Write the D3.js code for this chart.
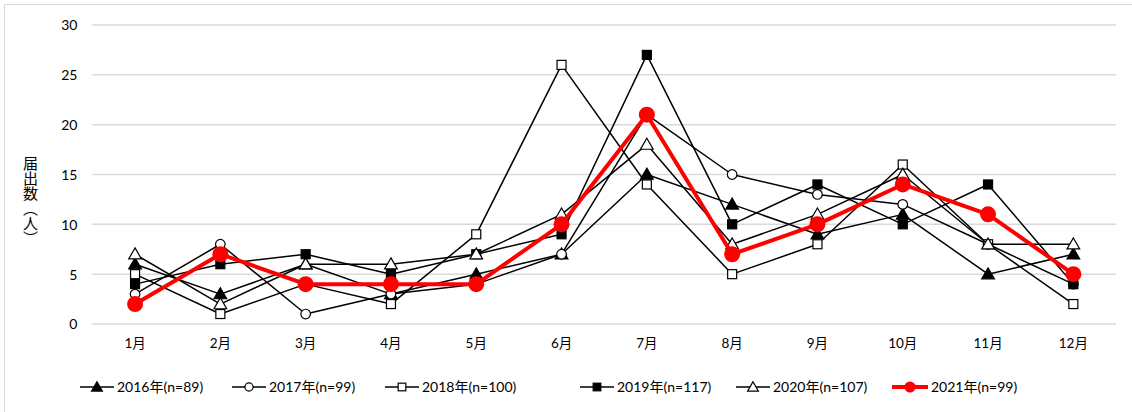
<!DOCTYPE html>
<html><head><meta charset="utf-8">
<script src="https://cdn.jsdelivr.net/npm/d3@7"></script>
<style>
html,body{margin:0;padding:0;background:#fff;}
text{font-family:"Lato","Noto Sans CJK JP",sans-serif;fill:#000;}
</style></head>
<body><svg id="c" width="1132" height="412"></svg>
<script>
const months = ["1月","2月","3月","4月","5月","6月","7月","8月","9月","10月","11月","12月"];
const yTicks = [0,5,10,15,20,25,30];
const seriesNames = ["2016年(n=89)","2017年(n=99)","2018年(n=100)","2019年(n=117)","2020年(n=107)","2021年(n=99)"];
const v2016 = [6,3,6,3,5,7,15,12,9,11,5,7];
const v2017 = [3,8,1,3,4,7,21,15,13,12,8,4];
const v2018 = [5,1,4,2,9,26,14,5,8,16,8,2];
const v2019 = [4,6,7,5,7,9,27,10,14,10,14,4];
const v2020 = [7,2,6,6,7,11,18,8,11,15,8,8];
const v2021 = [2,7,4,4,4,10,21,7,10,14,11,5];
const yTitle = "届出数（人）";

const svg = d3.select("#c");
const L = 92.4, R = 1116, T = 25, B = 324;
const x = d3.scaleBand().domain(months).range([L, R]);
const y = d3.scaleLinear().domain([0, 30]).range([B, T]);

// chart border
svg.append("rect").attr("x",4.5).attr("y",4.5).attr("width",1140).attr("height",420)
  .attr("fill","none").attr("stroke","#d9d9d9").attr("stroke-width",1);

// gridlines
svg.append("g").selectAll("line").data(yTicks).join("line")
  .attr("x1",L).attr("x2",R).attr("y1",d=>y(d)).attr("y2",d=>y(d))
  .attr("stroke","#d9d9d9").attr("stroke-width",1.5);

// y axis labels
const yAxis = d3.axisLeft(y).tickValues(yTicks).tickSize(0).tickPadding(15);
const gy = svg.append("g").attr("transform",`translate(${L},0)`).call(yAxis);
gy.select(".domain").remove();
gy.selectAll("text").attr("font-size",14).attr("font-family","Lato, sans-serif").attr("dy","0.35em");

// x axis labels
const xAxis = d3.axisBottom(x).tickSize(0).tickPadding(14);
const gx = svg.append("g").attr("transform",`translate(0,${B})`).call(xAxis);
gx.select(".domain").remove();
gx.selectAll("text").attr("font-size",13.5).attr("font-family","Lato, 'Noto Sans CJK JP', sans-serif");

// y title vertical
svg.append("text").attr("x",30).attr("y",156)
  .attr("font-size",15).attr("font-family","'Noto Sans CJK JP', sans-serif")
  .style("writing-mode","vertical-rl")
  .text(yTitle);

const data = [v2016,v2017,v2018,v2019,v2020,v2021];
const styles = [
  {m:"triUp", fill:"#000", stroke:"#000", lw:1.5, col:"#000"},
  {m:"circle", fill:"#fff", stroke:"#000", lw:1.5, col:"#000"},
  {m:"square", fill:"#fff", stroke:"#000", lw:1.5, col:"#000"},
  {m:"square", fill:"#000", stroke:"#000", lw:1.5, col:"#000"},
  {m:"triUp", fill:"#fff", stroke:"#000", lw:1.5, col:"#000"},
  {m:"bigcircle", fill:"#ff0000", stroke:"#ff0000", lw:4, col:"#ff0000"}
];
function drawMarker(g, st, cx, cy, s){
  s = s || 1;
  if(st.m==="triUp"){
    g.append("path").attr("d", d3.symbol(d3.symbolTriangle, 70*s*s)())
      .attr("transform",`translate(${cx},${cy+1})`)
      .attr("fill",st.fill).attr("stroke",st.stroke).attr("stroke-width",1.2);
  } else if(st.m==="circle"){
    g.append("circle").attr("cx",cx).attr("cy",cy).attr("r",4.8*s)
      .attr("fill",st.fill).attr("stroke",st.stroke).attr("stroke-width",1.2);
  } else if(st.m==="square"){
    g.append("rect").attr("x",cx-4.5*s).attr("y",cy-4.5*s).attr("width",9*s).attr("height",9*s)
      .attr("fill",st.fill).attr("stroke",st.stroke).attr("stroke-width",1.2);
  } else {
    g.append("circle").attr("cx",cx).attr("cy",cy).attr("r",8*s)
      .attr("fill",st.fill).attr("stroke","none");
  }
}
const line = d3.line().x((d,i)=>x(months[i])+x.bandwidth()/2).y(d=>y(d));
data.forEach((vals,k)=>{
  const st = styles[k];
  const g = svg.append("g");
  g.append("path").datum(vals).attr("d",line).attr("fill","none")
    .attr("stroke",st.col).attr("stroke-width",st.lw).attr("stroke-linejoin","round");
  vals.forEach((v,i)=>drawMarker(g, st, x(months[i])+x.bandwidth()/2, y(v)));
});

// legend
const legX = [80, 232, 385, 580, 736, 892];
const legY = 387;
const lg = svg.append("g");
seriesNames.forEach((n,k)=>{
  const st = styles[k];
  const x0 = legX[k];
  const w = k===5 ? 36 : 34;
  lg.append("line").attr("x1",x0).attr("x2",x0+w).attr("y1",legY).attr("y2",legY)
    .attr("stroke",st.col).attr("stroke-width",st.lw);
  drawMarker(lg, st, x0+w/2, legY, k===5 ? 0.7 : 0.85);
  lg.append("text").attr("x",x0+w+3).attr("y",legY).attr("dy","0.35em")
    .attr("font-size",14).attr("font-family","Lato, 'Noto Sans CJK JP', sans-serif").text(n);
});
</script></body></html>
